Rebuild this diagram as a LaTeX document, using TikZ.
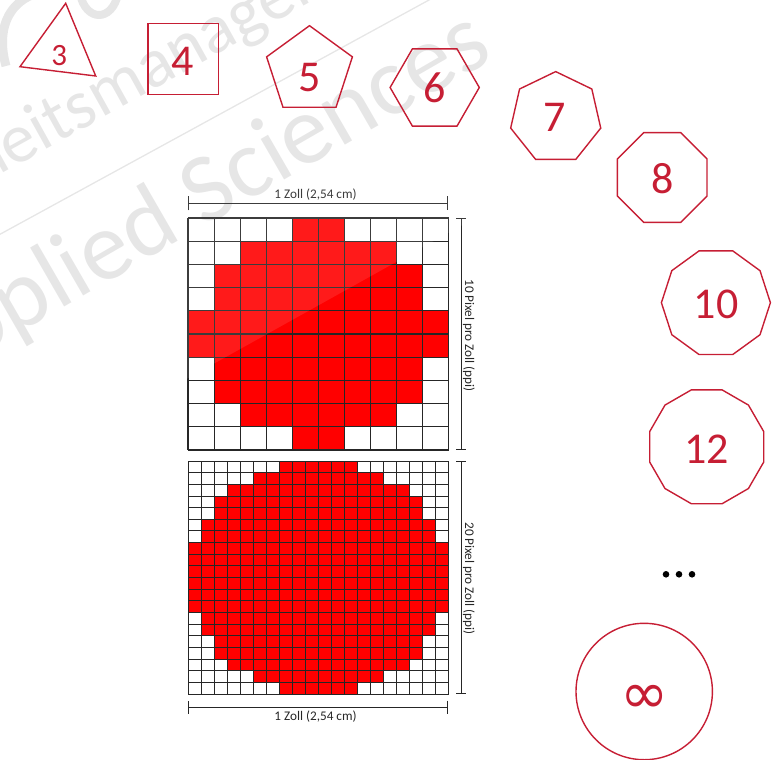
\documentclass[tikz,border=0pt]{standalone}
\usepackage{fontspec}
\setmainfont{Carlito}
\newfontfamily\dejavu{DejaVu Sans}
\usetikzlibrary{calc,arrows.meta}
\definecolor{hsred}{RGB}{198,30,52}
\definecolor{pixred}{RGB}{255,0,0}
\definecolor{gridc}{RGB}{38,38,38}
\begin{document}
\begin{tikzpicture}[x=1pt,y=-1pt,
  poly/.style={draw=hsred,line width=1.4pt,line join=miter},
  num/.style={text=hsred,font=\fontsize{44}{44}\selectfont,inner sep=0pt},
  gridline/.style={draw=gridc,line width=1.1pt},
  finegrid/.style={draw=gridc,line width=0.9pt},
  dim/.style={draw=gridc,line width=0.9pt},
  captxt/.style={font=\fontsize{13.2}{14}\selectfont,text=black!85,inner sep=0pt},
  wm/.style={text=black,text opacity=0.11,inner sep=0pt},
  wmline/.style={draw=black,draw opacity=0.11}]
\useasboundingbox (0,0) rectangle (775,759);

% watermark
\node[wm,anchor=base west,rotate=29,font=\fontsize{70}{70}\selectfont] (wm1) at (-20,186) {heitsmanagement};
\node[wm,anchor=base east,rotate=30,font=\fontsize{98}{98}\selectfont] (wm2) at (496,58) {Applied Sciences};
\coordinate (wl1) at (-5,237);
\coordinate (wl2) at (440,-6);
\draw[wmline,line width=1.3pt] (wl1) -- (wl2);
\coordinate (lg1) at (6,66); \coordinate (lg2) at (34,-6);
\draw[wmline,line width=9pt] (lg1) .. controls (-4,30) and (8,4) .. (lg2);
\coordinate (lg3) at (80,-6); \coordinate (lg4) at (118,-6);
\draw[wmline,line width=8pt] (lg3) .. controls (86,22) and (112,22) .. (lg4);

% 10 ppi grid
\foreach \r/\a/\b in {0/4/5,1/2/7,2/1/8,3/1/8,4/0/9,5/0/9,6/1/8,7/1/8,8/2/7,9/4/5}
  \fill[pixred] ({188+\a*26.05},{218+\r*23.2}) rectangle ({188+(\b+1)*26.05},{218+(\r+1)*23.2});
\foreach \i in {0,...,10}{
  \draw[gridline] ({188+\i*26.05},218) -- ({188+\i*26.05},450);
  \draw[gridline] (188,{218+\i*23.2}) -- (448.5,{218+\i*23.2});
}
% 20 ppi grid
\foreach \r/\a/\b in {0/7/12,1/5/14,2/3/16,3/2/17,4/2/17,5/1/18,6/1/18,7/0/19,8/0/19,9/0/19,10/0/19,11/0/19,12/0/19,13/1/18,14/1/18,15/2/17,16/2/17,17/3/16,18/5/14,19/7/12}
  \fill[pixred] ({188+\a*13.025},{461+\r*11.65}) rectangle ({188+(\b+1)*13.025},{461+(\r+1)*11.65});
\foreach \i in {0,...,20}{
  \draw[finegrid] ({188+\i*13.025},461) -- ({188+\i*13.025},694);
  \draw[finegrid] (188,{461+\i*11.65}) -- (448.5,{461+\i*11.65});
}

% dimension lines
\coordinate (ta) at (188,203.5); \coordinate (tb) at (448,203.5);
\coordinate (ra) at (461,218);   \coordinate (rb) at (461,450);
\coordinate (sa) at (461,461);   \coordinate (sb) at (461,694);
\coordinate (ba) at (188,707);   \coordinate (bb) at (448,707);
\draw[dim,{Bar[width=14pt]}-{Bar[width=14pt]}] (ta) -- (tb);
\draw[dim,{Bar[width=9.5pt]}-{Bar[width=9.5pt]}] (ra) -- (rb);
\draw[dim,{Bar[width=9.5pt]}-{Bar[width=9.5pt]}] (sa) -- (sb);
\draw[dim,{Bar[width=13pt]}-{Bar[width=13pt]}] (ba) -- (bb);
\node[captxt,anchor=base] (captop) at (315.5,199) {1 Zoll (2,54 cm)};
\node[captxt,anchor=base] (capbot) at (315.5,720.5) {1 Zoll (2,54 cm)};
\node[captxt,rotate=-90] (cap10) at (469,335.5) {10 Pixel pro Zoll (ppi)};
\node[captxt,rotate=-90] (cap20) at (469,578.5) {20 Pixel pro Zoll (ppi)};

% translucent watermark band
\fill[white,fill opacity=0.1] (0,483) -- (665,112) -- (606,-5) -- (0,-5) -- cycle;

% polygons
\coordinate (t1) at (65.7,3.3); \coordinate (t2) at (20,66.7); \coordinate (t3) at (95.7,76);
\draw[poly] (t1) -- (t2) -- (t3) -- cycle;
\node[num,font=\fontsize{31}{31}\selectfont] (n3) at (59.3,56) {3};

\draw[poly] (148,23.3) rectangle (218.7,94.7);
\node[num] (n4) at (183,61) {4};

\coordinate (c5) at (309.5,70.8);
\draw[poly] ($(c5)+(-90:45.1)$) \foreach \i in {1,...,4}{ -- ($(c5)+(-90+72*\i:45.1)$)} -- cycle;
\node[num] (n5) at (309.3,77.3) {5};

\coordinate (c6) at (434.7,87.5);
\draw[poly] ($(c6)+(0:44.6)$) \foreach \i in {1,...,5}{ -- ($(c6)+(60*\i:44.6)$)} -- cycle;
\node[num] (n6) at (434.3,88.3) {6};

\coordinate (c7) at (555.7,117.8);
\draw[poly] ($(c7)+(-90:46.2)$) \foreach \i in {1,...,6}{ -- ($(c7)+(-90+360/7*\i:46.2)$)} -- cycle;
\node[num] (n7) at (555,117.3) {7};

\coordinate (c8) at (662.2,177.5);
\draw[poly] ($(c8)+(22.5:48.5)$) \foreach \i in {1,...,7}{ -- ($(c8)+(22.5+45*\i:48.5)$)} -- cycle;
\node[num] (n8) at (662.3,178.3) {8};

\coordinate (c10) at (715.9,302.7);
\draw[poly] ($(c10)+(0:54.5)$) \foreach \i in {1,...,9}{ -- ($(c10)+(36*\i:54.5)$)} -- cycle;
\node[num] (n10) at (716,304) {10};

\coordinate (c12) at (706.7,446.8);
\draw[poly] ($(c12)+(15:59)$) \foreach \i in {1,...,11}{ -- ($(c12)+(15+30*\i:59)$)} -- cycle;
\node[num] (n12) at (706.7,449.3) {12};

% dots
\foreach \x in {666,679,692}
  \fill (\x,574.3) circle (3.3);

% infinity circle
\coordinate (cinf) at (644.2,691.5);
\draw[poly] (cinf) circle (68.2);
\node[num,font=\dejavu\fontsize{58}{58}\selectfont] (ninf) at (644.3,699) {∞};
\end{tikzpicture}
\end{document}
